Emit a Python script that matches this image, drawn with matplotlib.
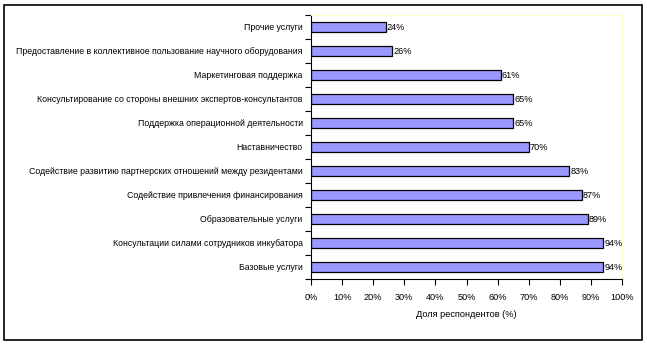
import matplotlib.pyplot as plt
from matplotlib.patches import Rectangle
import numpy as np

categories = [
    "Прочие услуги",
    "Предоставление в коллективное пользование научного оборудования",
    "Маркетинговая поддержка",
    "Консультирование со стороны внешних экспертов-консультантов",
    "Поддержка операционной деятельности",
    "Наставничество",
    "Содействие развитию партнерских отношений между резидентами",
    "Содействие привлечения финансирования",
    "Образовательные услуги",
    "Консультации силами сотрудников инкубатора",
    "Базовые услуги",
]
values = [24, 26, 61, 65, 65, 70, 83, 87, 89, 94, 94]
xticks = list(range(0, 101, 10))
xlabel = "Доля респондентов (%)"

plt.rcParams['font.family'] = ['Liberation Sans Narrow', 'Liberation Sans', 'DejaVu Sans']

fig = plt.figure(figsize=(6.47, 3.44), dpi=100)
ax = fig.add_axes([311 / 647, 1 - 279 / 344, 311 / 647, 264 / 344])

n = len(categories)
y = np.arange(n)
ax.barh(y, values, height=0.44, color='#9999ff', edgecolor='black', linewidth=0.9)
for yi, v in zip(y, values):
    ax.text(v + 0.4, yi, f"{v}%", va='center', ha='left', fontsize=6.6)

ax.set_xlim(0, 100)
ax.set_ylim(n - 0.5, -0.5)
ax.set_xticks(xticks)
ax.set_xticklabels([f"{t}%" for t in xticks], fontsize=6.6)
ax.set_yticks(y)
ax.set_yticklabels(categories, fontsize=6.3)
ax.tick_params(axis='y', which='major', length=0, pad=6)
ax.set_yticks(np.arange(-0.5, n, 1), minor=True)
ax.tick_params(axis='y', which='minor', length=4, direction='out', width=0.8)
ax.tick_params(axis='x', length=4, direction='out', width=0.8, pad=6)
ax.set_xlabel(xlabel, fontsize=6.6, labelpad=6)

for s in ['top', 'right']:
    ax.spines[s].set_color('#ffffcc')
    ax.spines[s].set_linewidth(0.8)
for s in ['left', 'bottom']:
    ax.spines[s].set_color('black')
    ax.spines[s].set_linewidth(0.8)

fig.patches.append(Rectangle((4 / 647, 1 - 340 / 344), 638 / 647, 335 / 344,
                             transform=fig.transFigure, fill=False,
                             edgecolor='black', linewidth=1.2))

fig.savefig('out.png', dpi=100)
